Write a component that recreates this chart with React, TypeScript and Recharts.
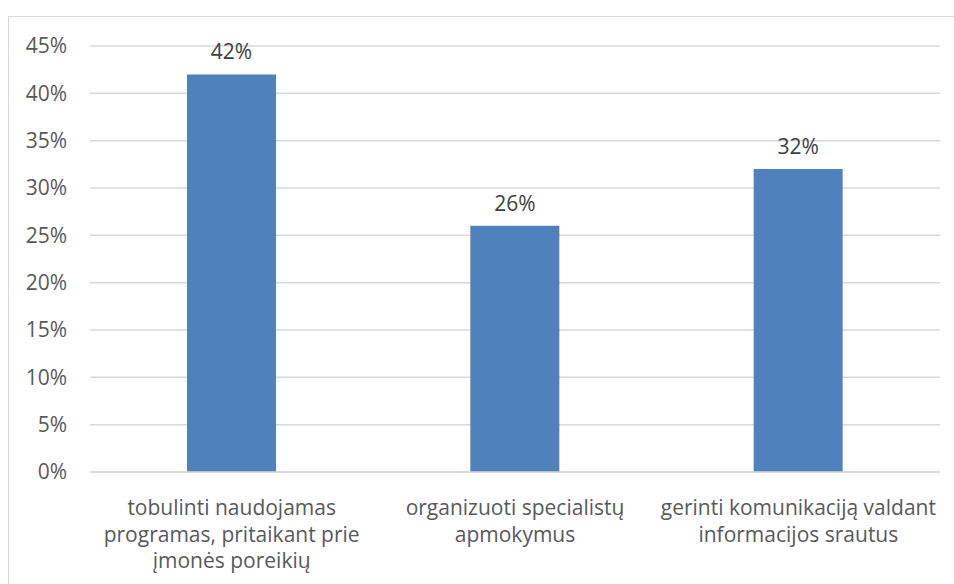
import React from 'react';
import { BarChart, Bar, XAxis, YAxis, CartesianGrid, LabelList } from 'recharts';

// category labels, already broken into the lines they are drawn on
const categoryLines: string[][] = [
  ['tobulinti naudojamas', 'programas, pritaikant prie', 'įmonės poreikių'],
  ['organizuoti specialistų', 'apmokymus'],
  ['gerinti komunikaciją valdant', 'informacijos srautus'],
];
const shares = [42, 26, 32];
const yTicks = [0, 5, 10, 15, 20, 25, 30, 35, 40, 45];

const FONT = '"Open Sans", Lato, sans-serif';
const FS = 21;

const chartData = categoryLines.map((lines, i) => ({ name: lines.join(' '), idx: i, value: shares[i] }));

const CategoryTick = (props: any) => {
  const { x, y, payload } = props;
  const lines = categoryLines[payload.index] || [payload.value];
  return (
    <g transform={`translate(${x},${y})`}>
      {lines.map((line, i) => (
        <text
          key={i}
          x={0}
          y={i * 26.5}
          dy={35}
          textAnchor="middle"
          fill="#595959"
          fontSize={FS}
          fontFamily={FONT}
        >
          {line}
        </text>
      ))}
    </g>
  );
};

const App: React.FC = () => {
  return (
    <div style={{ position: 'absolute', left: 0, top: 0, width: 954, height: 584, background: '#fff', overflow: 'hidden' }}>
      {/* chart frame, cut off at the right and bottom */}
      <div
        style={{
          position: 'absolute',
          left: 8,
          top: 16,
          width: 980,
          height: 600,
          border: '1px solid #d9d9d9',
        }}
      />
      <div style={{ position: 'absolute', left: 0, top: 0 }}>
        <BarChart
          width={954}
          height={584}
          data={chartData}
          margin={{ top: 46, right: 14, bottom: 0, left: 0 }}
          barCategoryGap="34%"
        >
          <CartesianGrid vertical={false} stroke="#d9d9d9" strokeWidth={1.5} />
          <XAxis
            dataKey="name"
            axisLine={{ stroke: '#d9d9d9', strokeWidth: 1.5 }}
            tickLine={false}
            height={112}
            interval={0}
            tick={<CategoryTick />}
          />
          <YAxis
            width={90}
            domain={[0, 45]}
            ticks={yTicks}
            interval={0}
            axisLine={false}
            tickLine={false}
            tickMargin={17}
            tickFormatter={(v: number) => `${v}%`}
            tick={{ fill: '#595959', fontSize: FS, fontFamily: FONT }}
          />
          <Bar dataKey="value" fill="#4f81bd" barSize={89} isAnimationActive={false}>
            <LabelList
              dataKey="value"
              position="top"
              offset={15}
              formatter={(v: any) => `${v}%`}
              fill="#404040"
              fontSize={FS}
              fontFamily={FONT}
            />
          </Bar>
        </BarChart>
      </div>
    </div>
  );
};

export default App;
